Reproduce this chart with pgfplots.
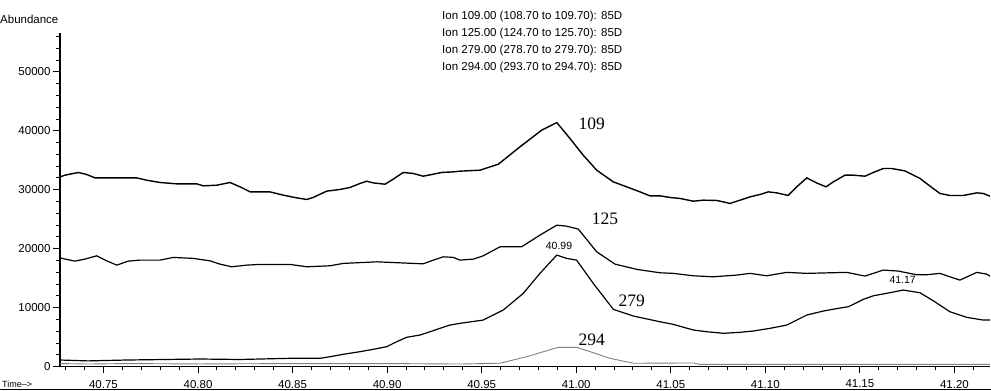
\documentclass[border=0pt]{standalone}
\usepackage{pgfplots}
\pgfplotsset{compat=1.18}
\usepackage{fontspec}
\setmainfont{Liberation Sans}
\newfontfamily\serifnum{Liberation Serif}
\begin{document}
\begin{tikzpicture}[x=1pt,y=1pt]
\useasboundingbox (0,0) rectangle (991,391);
\begin{axis}[
  at={(60pt,24.5pt)}, anchor=south west,
  scale only axis, width=930pt, height=333pt,
  xmin=40.727, xmax=41.2188, ymin=0, ymax=56500,
  axis lines=left, axis line style={-, line width=1.2pt, black},
  xtick={40.75,40.80,40.85,40.90,40.95,41.00,41.05,41.10,41.15,41.20},
  xticklabels={40.75,40.80,40.85,40.90,40.95,41.00,41.05,41.10,41.15,41.20},
  minor xtick={40.73,40.74,40.76,40.77,40.78,40.79,40.81,40.82,40.83,40.84,40.86,40.87,40.88,40.89,40.91,40.92,40.93,40.94,40.96,40.97,40.98,40.99,41.01,41.02,41.03,41.04,41.06,41.07,41.08,41.09,41.11,41.12,41.13,41.14,41.16,41.17,41.18,41.19,41.21},
  ytick={0,10000,20000,30000,40000,50000},
  minor ytick={2000,4000,6000,8000,12000,14000,16000,18000,22000,24000,26000,28000,32000,34000,36000,38000,42000,44000,46000,48000,52000,54000,56000},
  scaled y ticks=false,
  tick align=outside,
  x tick style={line width=1pt, black}, y tick style={line width=0.8pt, black},
  xtick/.append style={major tick length=8pt, minor tick length=5pt},
  ytick/.append style={major tick length=4pt, minor tick length=3pt},
  major tick length=7pt, minor tick length=4pt,
  /pgf/number format/assume math mode=true,
  /pgf/number format/1000 sep={},
  ticklabel style={font=\fontsize{11.5}{12}\selectfont},
  xticklabel style={yshift=-3pt},
  yticklabel style={xshift=1pt},
]
\addplot[black, line width=1.4pt] coordinates {
(40.7270,32170)(40.7296,32460)(40.7367,32920)(40.7411,32580)(40.7455,32000)
(40.7676,32000)(40.7728,31610)(40.7799,31220)(40.7887,30990)(40.7993,30990)
(40.8028,30650)(40.8099,30760)(40.8169,31220)(40.8222,30480)(40.8275,29630)
(40.8380,29630)(40.8451,29070)(40.8522,28610)(40.8575,28340)(40.8609,28680)
(40.8680,29750)(40.8751,30040)(40.8803,30370)(40.8856,31050)(40.8892,31440)
(40.8927,31150)(40.8989,30930)(40.9032,31780)(40.9085,32920)(40.9138,32750)
(40.9191,32290)(40.9244,32630)(40.9288,32920)(40.9350,33020)(40.9385,33140)
(40.9491,33310)(40.9588,34320)(40.9702,37260)(40.9817,40090)(40.9897,41390)
(40.9967,38680)(41.0037,35850)(41.0108,33310)(41.0196,31320)(41.0267,30480)
(41.0337,29630)(41.0390,28950)(41.0443,28950)(41.0496,28680)(41.0549,28510)
(41.0619,28050)(41.0672,28220)(41.0743,28170)(41.0778,27930)(41.0813,27660)
(41.0866,28220)(41.0919,28780)(41.0972,29190)(41.1016,29630)(41.1060,29460)
(41.1121,29020)(41.1166,30480)(41.1219,32000)(41.1271,31150)(41.1321,30480)
(41.1359,31320)(41.1421,32460)(41.1465,32460)(41.1527,32290)(41.1571,32920)
(41.1624,33590)(41.1668,33590)(41.1738,33190)(41.1818,31900)(41.1871,30600)
(41.1923,29360)(41.1976,29020)(41.2047,29020)(41.2118,29460)(41.2152,29360)
(41.2188,28900)};
\addplot[black, line width=1.2pt] coordinates {
(40.7270,18440)(40.7305,18170)(40.7349,17880)(40.7402,18220)(40.7464,18780)
(40.7517,17930)(40.7570,17200)(40.7631,17880)(40.7693,18050)(40.7799,18050)
(40.7869,18510)(40.7975,18340)(40.8063,17930)(40.8116,17370)(40.8178,16920)
(40.8257,17200)(40.8328,17320)(40.8486,17320)(40.8575,16920)(40.8698,17090)
(40.8768,17490)(40.8945,17760)(40.9138,17490)(40.9191,17420)(40.9244,18050)
(40.9297,18610)(40.9350,18510)(40.9385,18050)(40.9456,18220)(40.9508,18780)
(40.9597,20310)(40.9711,20310)(40.9808,22290)(40.9897,23980)(40.9949,23810)
(41.0011,23310)(41.0108,19460)(41.0205,17370)(41.0320,16480)(41.0443,15900)
(41.0513,15800)(41.0619,15390)(41.0725,15220)(41.0848,15510)(41.0919,15800)
(41.1007,15390)(41.1113,15970)(41.1219,15800)(41.1342,15900)(41.1430,15970)
(41.1527,15340)(41.1624,16360)(41.1703,16190)(41.1800,15560)(41.1853,15560)
(41.1923,15800)(41.1976,15220)(41.2029,14660)(41.2118,15970)(41.2170,15680)
(41.2188,15340)};
\addplot[black, line width=1.2pt] coordinates {
(40.7270,1100)(40.7418,950)(40.7624,1100)(40.8010,1270)(40.8222,1190)
(40.8486,1390)(40.8645,1390)(40.8698,1660)(40.8768,2070)(40.8856,2510)
(40.8927,2920)(40.8998,3360)(40.9050,4200)(40.9103,4950)(40.9174,5340)
(40.9227,5900)(40.9279,6470)(40.9332,7030)(40.9385,7320)(40.9508,7880)
(40.9614,9580)(40.9720,12410)(40.9808,15800)(40.9897,18900)(40.9949,18340)
(41.0002,18050)(41.0090,14100)(41.0196,9700)(41.0302,8560)(41.0443,7590)
(41.0513,7150)(41.0619,6190)(41.0690,5900)(41.0778,5630)(41.0866,5800)
(41.0936,6020)(41.1024,6470)(41.1113,7030)(41.1219,8730)(41.1306,9410)
(41.1404,9970)(41.1439,10140)(41.1518,11390)(41.1571,12000)(41.1641,12410)
(41.1729,12970)(41.1818,12510)(41.1888,11150)(41.1976,9290)(41.2065,8340)
(41.2152,7880)(41.2188,7880)};
\addplot[gray, line width=0.9pt] coordinates {
(40.7270,500)(40.7418,420)(40.7624,500)(40.8010,430)(40.8500,500)
(40.9000,500)(40.9385,420)(40.9597,560)(40.9738,1660)(40.9826,2510)
(40.9905,3250)(41.0002,3250)(41.0090,2340)(41.0178,1390)(41.0302,550)
(41.0620,600)(41.0650,370)(41.2188,370)};
\node[font=\serifnum\fontsize{17.5}{18}\selectfont] at (axis cs:41.0082,41100) {109};
\node[font=\serifnum\fontsize{17.5}{18}\selectfont] at (axis cs:41.0152,25120) {125};
\node[font=\serifnum\fontsize{17.5}{18}\selectfont] at (axis cs:41.0293,11150) {279};
\node[font=\serifnum\fontsize{17.5}{18}\selectfont] at (axis cs:41.0082,4490) {294};
\node[font=\fontsize{10.5}{11}\selectfont] at (axis cs:40.9909,20420) {40.99};
\node[font=\fontsize{10.5}{11}\selectfont] at (axis cs:41.1726,14660) {41.17};
\end{axis}
\begin{scope}[every node/.style={font=\fontsize{11.5}{12}\selectfont, anchor=base west, inner sep=0pt}]
\node at (442,371.5) {Ion 109.00 (108.70 to 109.70): 85D};
\node at (442,354.5) {Ion 125.00 (124.70 to 125.70): 85D};
\node at (442,337.5) {Ion 279.00 (278.70 to 279.70): 85D};
\node at (442,320.5) {Ion 294.00 (293.70 to 294.70): 85D};
\node at (0,367) {Abundance};
\node[font=\fontsize{9}{10}\selectfont] at (2,3.5) {Time-->};
\end{scope}
\draw[line width=1pt] (0,1) -- (991,1);
\end{tikzpicture}
\end{document}
